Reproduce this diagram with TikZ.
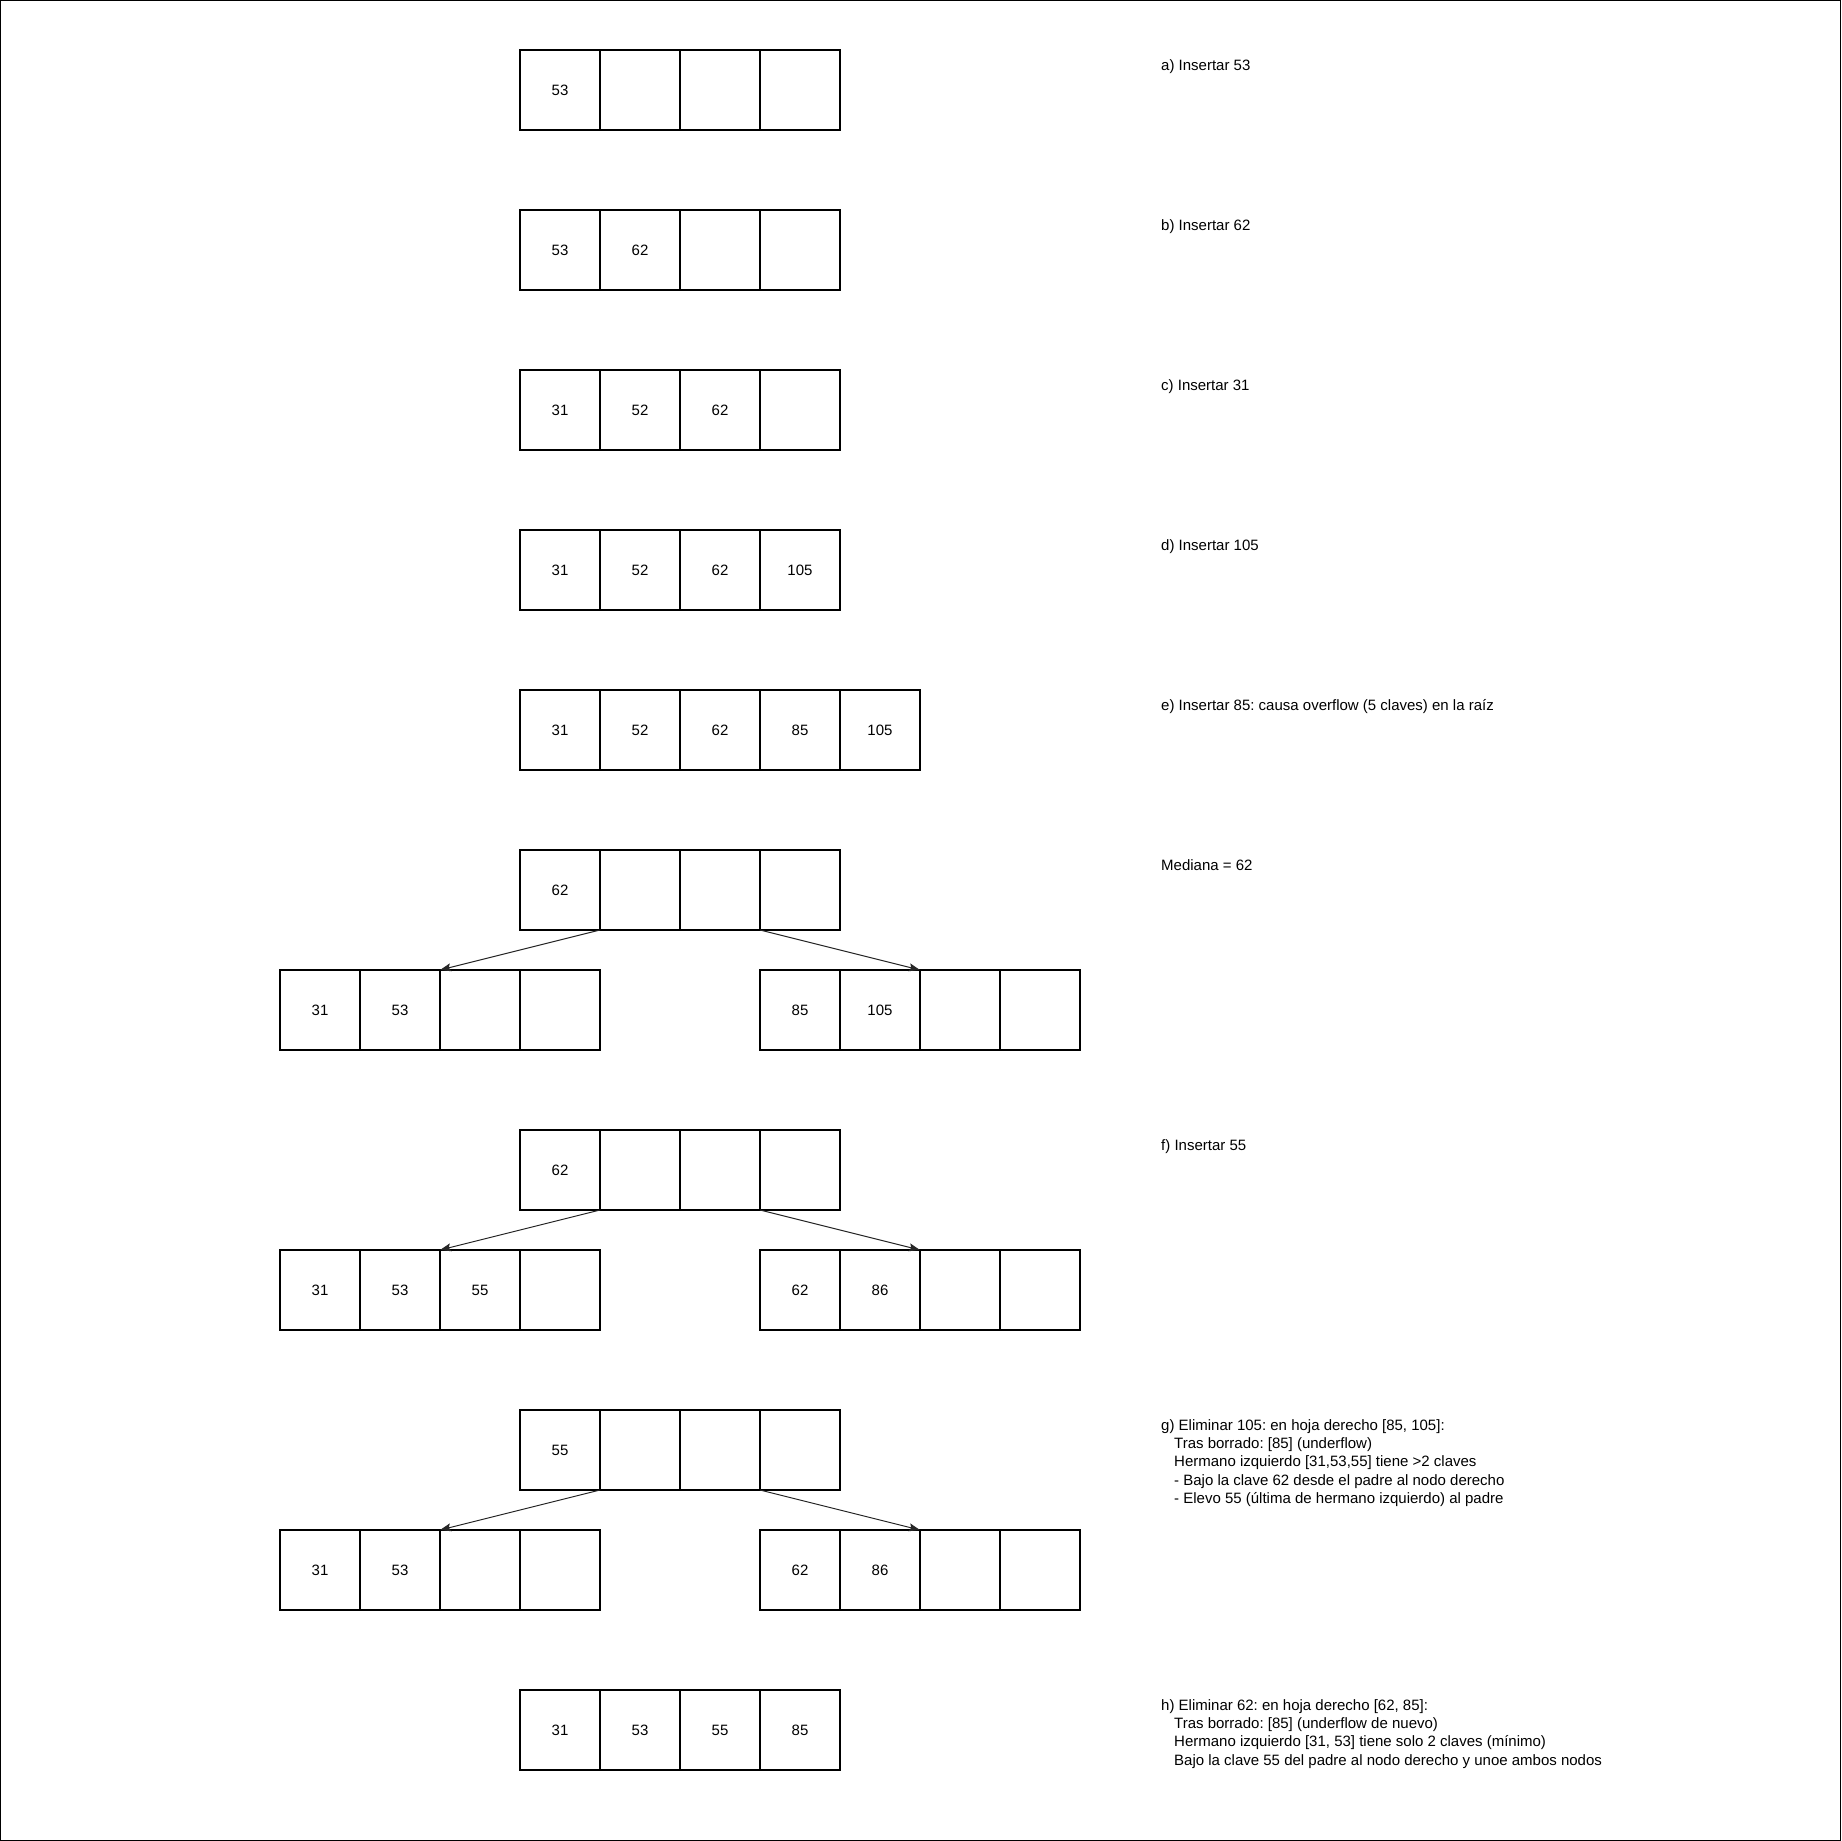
\documentclass[tikz,border=0pt]{standalone}
\usepackage{fontspec}
\setmainfont{Liberation Sans}
\usetikzlibrary{arrows.meta}
\frenchspacing
\tikzset{
  cell/.style={draw=black, line width=1.1pt, minimum width=80pt, minimum height=80pt,
    inner sep=0pt, outer sep=0pt, font=\fontsize{15}{18}\selectfont},
  label/.style={anchor=base west, inner sep=0pt,
    font=\fontsize{15}{18.2}\selectfont},
  ptr/.style={draw=black!85, line width=1pt, -{Stealth[length=11pt,width=8pt,inset=2pt]}},
}
\newcommand\keyrow[4]{%
  \foreach \v [count=\i] in {#4} {
    \node[cell] (#1\i) at ({#2+80*\i-40},{#3+40}) {\v};
  }%
}
\newcommand\ind{\hspace*{13pt}}
\newcommand\lines[1]{\vtop{\frenchspacing\baselineskip=18.2pt #1}}
\begin{document}
\begin{tikzpicture}[x=1pt,y=-1pt]
\useasboundingbox (0,0) rectangle (1841,1841);
\draw[line width=1.3pt] (0.65,0.65) rectangle (1840.35,1840.35);

% a
\keyrow{a}{520}{50}{53,{},{},{}}
\node[label] (ta) at (1161,70.5) {a) Insertar 53};
% b
\keyrow{b}{520}{210}{53,62,{},{}}
\node[label] (tb) at (1161,230.5) {b) Insertar 62};
% c
\keyrow{c}{520}{370}{31,52,62,{}}
\node[label] (tc) at (1161,390.5) {c) Insertar 31};
% d
\keyrow{d}{520}{530}{31,52,62,105}
\node[label] (td) at (1161,550.5) {d) Insertar 105};
% e
\keyrow{e}{520}{690}{31,52,62,85,105}
\node[label] (te) at (1161,710.5) {e) Insertar 85: causa overflow (5 claves) en la raíz};
% mediana
\keyrow{mp}{520}{850}{62,{},{},{}}
\keyrow{ml}{280}{970}{31,53,{},{}}
\keyrow{mr}{760}{970}{85,105,{},{}}
\node[label] (tm) at (1161,870.5) {Mediana = 62};
\draw[ptr] (mp1.south east) -- (ml2.north east);
\draw[ptr] (mp3.south east) -- (mr2.north east);
% f
\keyrow{fp}{520}{1130}{62,{},{},{}}
\keyrow{fl}{280}{1250}{31,53,55,{}}
\keyrow{fr}{760}{1250}{62,86,{},{}}
\node[label] (tf) at (1161,1150.5) {f) Insertar 55};
\draw[ptr] (fp1.south east) -- (fl2.north east);
\draw[ptr] (fp3.south east) -- (fr2.north east);
% g
\keyrow{gp}{520}{1410}{55,{},{},{}}
\keyrow{gl}{280}{1530}{31,53,{},{}}
\keyrow{gr}{760}{1530}{62,86,{},{}}
\node[label] (tg) at (1161,1430.5) {\lines{%
\hbox{g) Eliminar 105: en hoja derecho [85, 105]:}
\hbox{\ind Tras borrado: [85] (underflow)}
\hbox{\ind Hermano izquierdo [31,53,55] tiene >2 claves}
\hbox{\ind - Bajo la clave 62 desde el padre al nodo derecho}
\hbox{\ind - Elevo 55 (última de hermano izquierdo) al padre}}};
\draw[ptr] (gp1.south east) -- (gl2.north east);
\draw[ptr] (gp3.south east) -- (gr2.north east);
% h
\keyrow{h}{520}{1690}{31,53,55,85}
\node[label] (th) at (1161,1710.5) {\lines{%
\hbox{h) Eliminar 62: en hoja derecho [62, 85]:}
\hbox{\ind Tras borrado: [85] (underflow de nuevo)}
\hbox{\ind Hermano izquierdo [31, 53] tiene solo 2 claves (mínimo)}
\hbox{\ind Bajo la clave 55 del padre al nodo derecho y unoe ambos nodos}}};
\end{tikzpicture}
\end{document}
